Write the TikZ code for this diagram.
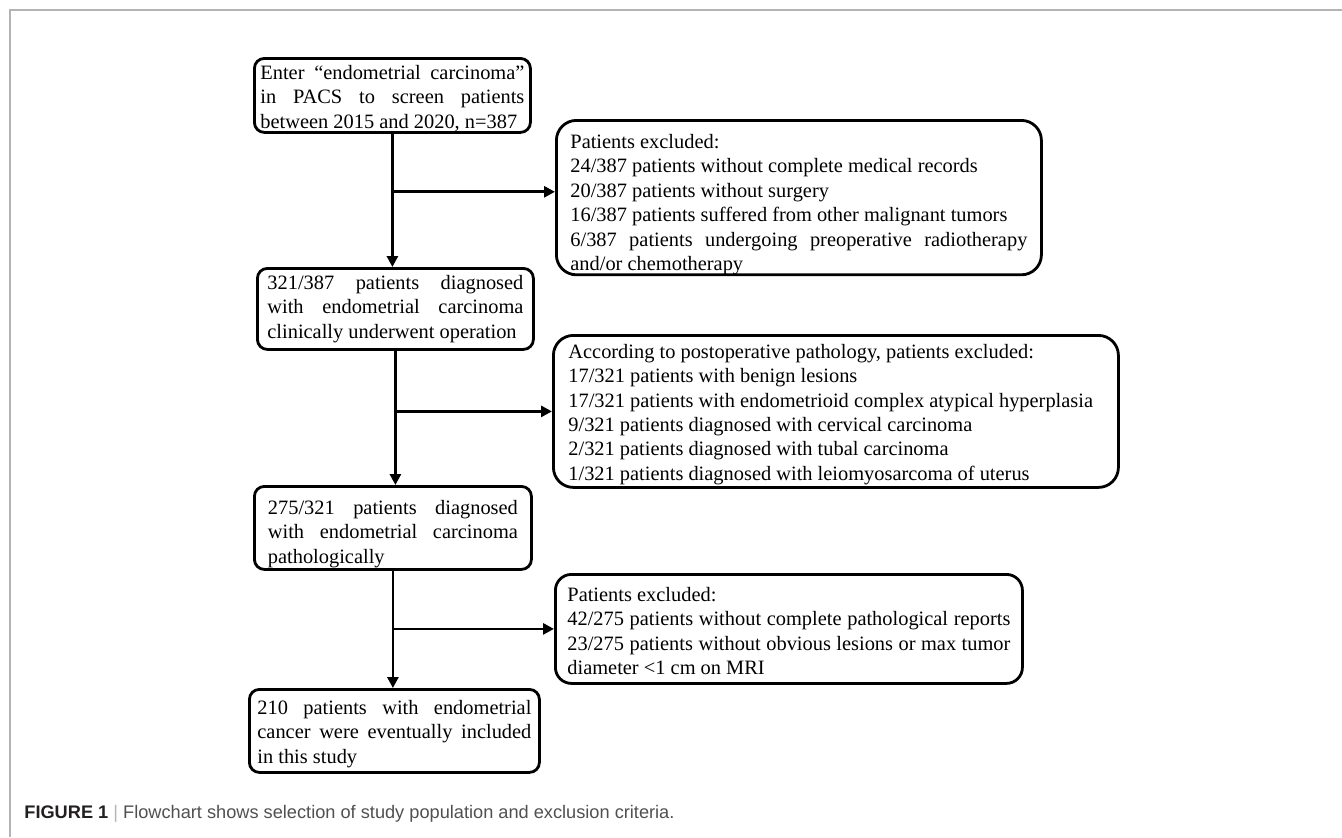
\documentclass[tikz,border=0pt]{standalone}
\usepackage{fontspec}
\setmainfont{Liberation Serif}
\newfontfamily\capfont{Liberation Sans}
\usetikzlibrary{arrows.meta}
\definecolor{framegray}{HTML}{B4B4B4}
\definecolor{capgray}{HTML}{505050}
\definecolor{capdark}{HTML}{231F20}
\hyphenpenalty=10000
\tolerance=10000
% taller first line, pushes the text of a box down a little
\newcommand\lift[1]{\rule{0pt}{#1}}

\begin{document}
\begin{tikzpicture}[x=0.5pt,y=-0.5pt,
    box/.style={draw, line width=1.4pt, anchor=north west, align=justify, inner ysep=0pt,
      font=\fontsize{10.2}{12.2}\selectfont, rounded corners=5pt},
    side/.style={box, rounded corners=10pt},
    flow/.style={line width=1.4pt, -{Triangle[length=5.5pt,width=5.5pt]}}]
  \useasboundingbox (0,0) rectangle (1342,837);
  % page frame
  \draw[framegray, line width=0.8pt] (10,837) -- (10,10) -- (1342,10);

  % main column
  \node[box, inner xsep=3pt, text width=132pt, minimum height=37pt] (enter) at (253,57)
    {\lift{10pt}Enter “endometrial carcinoma”\linebreak in PACS to screen patients\linebreak between 2015 and 2020, n=387};
  \node[box, inner xsep=5pt, text width=128pt, minimum height=40.5pt] (clinic) at (256,267)
    {321/387 patients diagnosed\linebreak with endometrial carcinoma\linebreak clinically underwent operation};
  \node[box, inner xsep=6.75pt, text width=125pt, minimum height=41.5pt] (patho) at (253,485)
    {\lift{13pt}275/321 patients diagnosed\linebreak with endometrial carcinoma\linebreak pathologically};
  \node[box, inner xsep=4pt, text width=137pt, minimum height=41.5pt] (final) at (248,688)
    {\lift{10pt}210 patients with endometrial\linebreak cancer were eventually included\linebreak in this study};

  % exclusions
  \node[side, inner xsep=7pt, text width=228.5pt, minimum height=77pt] (excl1) at (555,119)
    {\lift{14pt}Patients excluded:\\
     24/387 patients without complete medical records\\
     20/387 patients without surgery\\
     16/387 patients suffered from other malignant tumors\\
     6/387 patients undergoing preoperative radiotherapy\linebreak and/or chemotherapy};
  \node[side, inner xsep=7.5pt, text width=267.5pt, minimum height=76pt] (excl2) at (552,334)
    {\lift{10pt}According to postoperative pathology, patients excluded:\\
     17/321 patients with benign lesions\\
     17/321 patients with endometrioid complex atypical hyperplasia\\
     9/321 patients diagnosed with cervical carcinoma\\
     2/321 patients diagnosed with tubal carcinoma\\
     1/321 patients diagnosed with leiomyosarcoma of uterus};
  \node[side, rounded corners=8pt, inner xsep=6pt, text width=221.5pt, minimum height=54.5pt] (excl3) at (554,573)
    {\lift{9pt}Patients excluded:\\
     42/275 patients without complete pathological reports\linebreak
     23/275 patients without obvious lesions or max tumor\linebreak
     diameter <1 cm on MRI};

  % connectors
  \draw[flow] (enter.south) -- (enter.south |- clinic.north);
  \draw[flow] (clinic.south) -- (clinic.south |- patho.north);
  \draw[flow] (patho.south) -- (patho.south |- final.north);
  \coordinate (j1) at ([yshift=-29pt]enter.south);
  \draw[flow] (j1) -- (j1 -| excl1.west);
  \draw[flow] (clinic.south |- excl2.west) -- (excl2.west);
  \draw[flow] (patho.south |- excl3.west) -- (excl3.west);

  % caption
  \node[anchor=base west, inner sep=0pt, font=\capfont\fontsize{9.1}{11}\selectfont] (cap) at (24,818)
    {\textcolor{capdark}{\bfseries FIGURE 1} \textcolor{framegray}{|} \textcolor{capgray}{Flowchart shows selection of study population and exclusion criteria.}};
\end{tikzpicture}
\end{document}
